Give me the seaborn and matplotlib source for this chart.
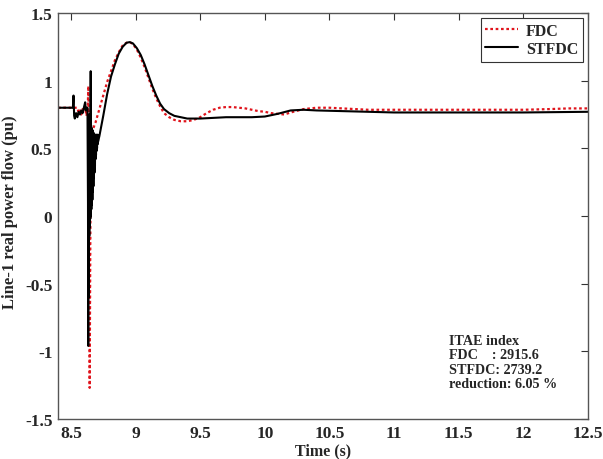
import matplotlib
matplotlib.use("Agg")
import matplotlib.pyplot as plt
import seaborn as sns
import pandas as pd

# FDC series (red dotted)
fdc_t = [8.40, 8.55, 8.56, 8.57, 8.58, 8.59, 8.60, 8.61, 8.62, 8.63, 8.635, 8.640, 8.645,
         8.650, 8.655, 8.66, 8.67, 8.69, 8.72, 8.75, 8.78, 8.81, 8.84, 8.87, 8.90, 8.93,
         8.955, 8.98, 9.01, 9.04, 9.07, 9.10, 9.13, 9.16, 9.19, 9.22, 9.26, 9.30, 9.35, 9.40,
         9.45, 9.50, 9.55, 9.60, 9.65, 9.70, 9.75, 9.80, 9.85, 9.90, 9.95, 10.00, 10.05, 10.10,
         10.15, 10.20, 10.30, 10.40, 10.50, 10.60, 10.70, 10.80, 11.00, 11.20, 11.50, 11.80,
         12.00, 12.20, 12.35, 12.50]
fdc_v = [0.80, 0.80, 0.76, 0.78, 0.75, 0.79, 0.77, 0.80, 0.74, 0.80, 0.96, 0.50, -1.27,
         -0.20, 0.55, 0.62, 0.64, 0.69, 0.79, 0.89, 0.99, 1.07, 1.15, 1.21, 1.26, 1.28,
         1.285, 1.27, 1.23, 1.17, 1.10, 1.02, 0.94, 0.87, 0.81, 0.76, 0.73, 0.71, 0.70, 0.70,
         0.71, 0.73, 0.76, 0.785, 0.80, 0.805, 0.805, 0.80, 0.795, 0.785, 0.775, 0.77, 0.76,
         0.755, 0.75, 0.765, 0.79, 0.80, 0.80, 0.795, 0.79, 0.785, 0.785, 0.785, 0.785, 0.785,
         0.785, 0.79, 0.795, 0.795]

# STFDC series (black solid)
stfdc_t = [8.40, 8.515, 8.52, 8.525, 8.53, 8.54, 8.55, 8.56, 8.57, 8.58, 8.59, 8.60, 8.61,
           8.615, 8.62, 8.628, 8.632, 8.634, 8.636, 8.638, 8.640, 8.642, 8.644, 8.646,
           8.648, 8.650, 8.652, 8.653, 8.654, 8.656, 8.658, 8.660, 8.662, 8.664, 8.666,
           8.668, 8.670, 8.672, 8.674, 8.676, 8.678, 8.680, 8.682, 8.684, 8.686, 8.688,
           8.690, 8.692, 8.694, 8.696, 8.698, 8.700, 8.702, 8.704, 8.706, 8.708, 8.710,
           8.715, 8.72, 8.75, 8.78, 8.81, 8.84, 8.87, 8.90, 8.93, 8.955, 8.98, 9.01, 9.04, 9.07,
           9.10, 9.13, 9.16, 9.19, 9.22, 9.26, 9.30, 9.35, 9.40, 9.45, 9.50, 9.60, 9.70,
           9.80, 9.90, 10.00, 10.10, 10.20, 10.30, 10.40, 10.60, 10.80, 11.00, 11.50, 12.00,
           12.50]
stfdc_v = [0.80, 0.80, 0.89, 0.74, 0.72, 0.76, 0.73, 0.77, 0.75, 0.78, 0.76, 0.80, 0.84,
           0.78, 0.80, 0.80, 0.10, -0.96, 0.70, -0.60, 0.75, -0.15, 0.72, -0.08,
           0.70, -0.02, 0.68, 1.07, 0.00, 0.67, 0.05, 0.65, 0.08, 0.64, 0.12,
           0.63, 0.18, 0.62, 0.22, 0.61, 0.28, 0.60, 0.32, 0.60, 0.37, 0.60,
           0.42, 0.60, 0.45, 0.60, 0.48, 0.60, 0.50, 0.60, 0.53, 0.60, 0.55,
           0.57, 0.59, 0.74, 0.90, 1.03, 1.12, 1.20, 1.25, 1.28, 1.285, 1.275, 1.24, 1.19, 1.12,
           1.04, 0.96, 0.89, 0.83, 0.79, 0.76, 0.74, 0.73, 0.72, 0.72, 0.72, 0.725, 0.73,
           0.73, 0.73, 0.735, 0.755, 0.78, 0.785, 0.78, 0.775, 0.77, 0.765, 0.765, 0.765,
           0.77]

x_ticks = [8.5, 9, 9.5, 10, 10.5, 11, 11.5, 12, 12.5]
x_tick_labels = ["8.5", "9", "9.5", "10", "10.5", "11", "11.5", "12", "12.5"]
y_ticks = [-1.5, -1, -0.5, 0, 0.5, 1, 1.5]
y_tick_labels = ["-1.5", "-1", "-0.5", "0", "0.5", "1", "1.5"]

sns.set_style("white")
plt.rcParams["font.family"] = ["Liberation Serif", "DejaVu Serif"]
plt.rcParams["font.weight"] = "bold"

fig = plt.figure(figsize=(6.03, 4.6), dpi=100)
ax = fig.add_axes([58 / 603, 40 / 460, (588 - 58) / 603, (420 - 14) / 460])

df_fdc = pd.DataFrame({"t": fdc_t, "v": fdc_v})
df_st = pd.DataFrame({"t": stfdc_t, "v": stfdc_v})

sns.lineplot(data=df_fdc, x="t", y="v", ax=ax, sort=False, estimator=None,
             color="#e0141c", linestyle=(0, (1.2, 1.2)), linewidth=1.6, label="FDC")
sns.lineplot(data=df_st, x="t", y="v", ax=ax, sort=False, estimator=None,
             color="black", linewidth=1.5, label="STFDC")

ax.set_xlim(8.4, 12.5)
ax.set_ylim(-1.5, 1.5)
ax.set_xticks(x_ticks)
ax.set_xticklabels(x_tick_labels)
ax.set_yticks(y_ticks)
ax.set_yticklabels(y_tick_labels)
ax.tick_params(direction="in", length=5, width=0.8, top=True, right=True,
               labelsize=12.5, color="#333333", pad=4)
for lab in ax.get_xticklabels() + ax.get_yticklabels():
    lab.set_fontweight("bold")
for s in ax.spines.values():
    s.set_color("#555555")
    s.set_linewidth(1.0)

ax.set_xlabel("Time (s)", fontsize=11.5, fontweight="bold", labelpad=1)
ax.set_ylabel("Line-1 real power flow (pu)", fontsize=12, fontweight="bold")
ax.yaxis.set_label_coords(-0.075, 0.512)

leg = ax.legend(loc="upper right", bbox_to_anchor=(1.0, 1.0), fontsize=11.5,
                frameon=True, fancybox=False, edgecolor="#333333", framealpha=1,
                handlelength=2.05, borderpad=0.3, labelspacing=0.15, handletextpad=0.5,
                borderaxespad=0.3)
leg.get_frame().set_linewidth(0.8)
for txt in leg.get_texts():
    txt.set_fontweight("bold")

ax.text(0.738, 0.209, "ITAE index\nFDC    : 2915.6\nSTFDC: 2739.2\nreduction: 6.05 %",
        transform=ax.transAxes, fontsize=10.2, fontweight="bold", va="top", ha="left",
        linespacing=1.12)

fig.savefig("out.png", dpi=100)
